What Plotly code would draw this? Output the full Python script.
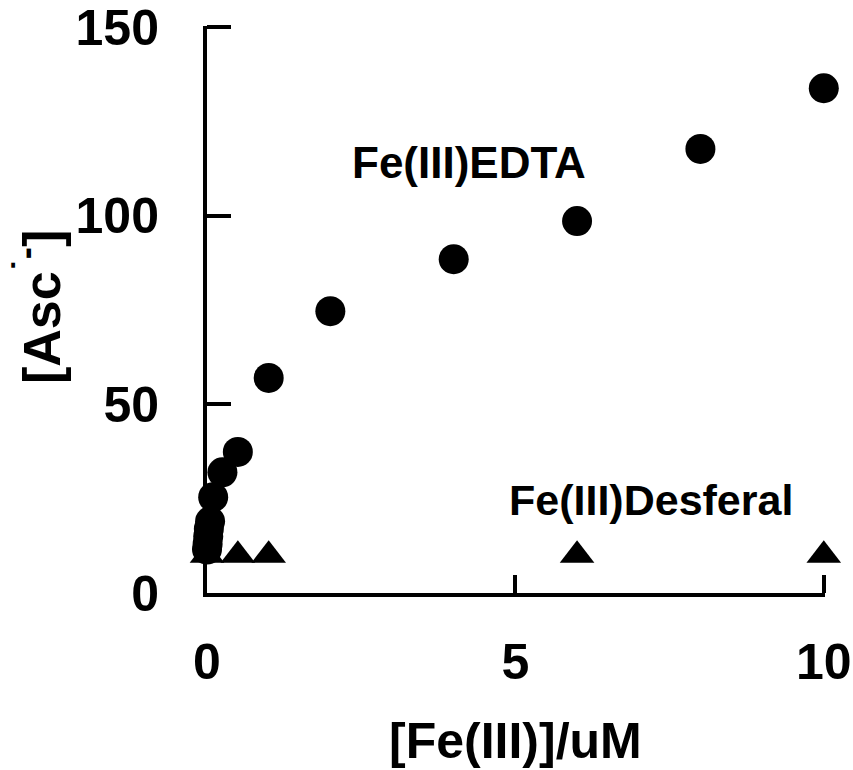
import plotly.graph_objects as go

# EDTA series
edta_x = [0.0, 0.01, 0.02, 0.03, 0.05, 0.1, 0.25, 0.5, 1, 2, 4, 6, 8, 10]
edta_y = [11.5, 13, 15, 17, 19, 25.4, 32, 37.4, 57, 74.7, 88.5, 98.6, 117.7, 133.8]

# Desferal series
desf_x = [0.0, 0.5, 1, 6, 10]
desf_y = [10, 10, 10, 10, 10]

x_ticks = [0, 5, 10]
y_ticks = [0, 50, 100, 150]

FONT = "Liberation Sans, Arial, sans-serif"
W, H = 853, 770
L, R, T, B = 207, 28, 26, 177

fig = go.Figure()
fig.add_trace(go.Scatter(
    x=desf_x, y=desf_y, mode="markers",
    marker=dict(symbol="triangle-up", size=30, color="black"),
    cliponaxis=False, showlegend=False))
fig.add_trace(go.Scatter(
    x=edta_x, y=edta_y, mode="markers",
    marker=dict(symbol="circle", size=30, color="black"),
    cliponaxis=False, showlegend=False))

fig.add_annotation(x=4.25, y=114, text="<b>Fe(III)EDTA</b>", showarrow=False,
                   font=dict(family=FONT, size=44, color="black"))
fig.add_annotation(x=7.2, y=24.6, text="<b>Fe(III)Desferal</b>", showarrow=False,
                   font=dict(family=FONT, size=43, color="black"))

# axis titles as paper annotations
pw, ph = W - L - R, H - T - B
fig.add_annotation(xref="paper", yref="paper", x=(515 - L) / pw, y=-(741 - (H - B)) / ph,
                   text="<b>[Fe(III)]/uM</b>", showarrow=False,
                   xanchor="center", yanchor="middle",
                   font=dict(family=FONT, size=50, color="black"))
fig.add_annotation(xref="paper", yref="paper", x=-(L - 38) / pw, y=1 - (307 - T) / ph,
                   text="<b>[Asc<sup>˙-</sup>]</b>", showarrow=False, textangle=-90,
                   xanchor="center", yanchor="middle",
                   font=dict(family=FONT, size=52, color="black"))

fig.update_layout(
    width=W, height=H,
    margin=dict(l=L, r=R, t=T, b=B, autoexpand=False),
    plot_bgcolor="white", paper_bgcolor="white",
    font=dict(family=FONT, color="black"),
    xaxis=dict(range=[0, 10.02], tickvals=x_ticks, ticktext=[f"<b>{v}</b>" for v in x_ticks],
               showgrid=False, zeroline=False, showline=True, linecolor="black", linewidth=4,
               ticks="inside", ticklen=18, tickwidth=4, tickcolor="black",
               ticklabelstandoff=22, automargin=False, ticklabeloverflow="allow",
               tickfont=dict(family=FONT, size=50, color="black")),
    yaxis=dict(range=[0, 150.3], tickvals=y_ticks, ticktext=[f"<b>{v}</b>" for v in y_ticks],
               showgrid=False, zeroline=False, showline=True, linecolor="black", linewidth=4,
               ticks="inside", ticklen=24, tickwidth=4, tickcolor="black",
               ticklabelstandoff=34, automargin=False, ticklabeloverflow="allow",
               tickfont=dict(family=FONT, size=50, color="black")),
)

fig.write_html("out.html")
